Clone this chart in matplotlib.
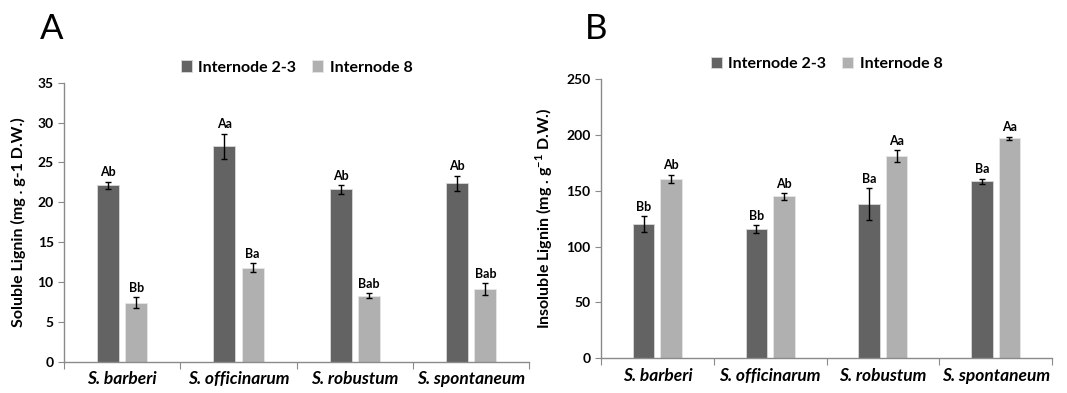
import numpy as np
import matplotlib
matplotlib.use('Agg')
import matplotlib.pyplot as plt

species = ['S. barberi', 'S. officinarum', 'S. robustum', 'S. spontaneum']
series_names = ['Internode 2-3', 'Internode 8']

soluble_23 = [22.1, 27.0, 21.6, 22.4]
soluble_23_err = [0.5, 1.6, 0.6, 0.95]
soluble_8 = [7.4, 11.8, 8.3, 9.1]
soluble_8_err = [0.7, 0.55, 0.3, 0.75]
soluble_23_lbl = ['Ab', 'Aa', 'Ab', 'Ab']
soluble_8_lbl = ['Bb', 'Ba', 'Bab', 'Bab']

insoluble_23 = [120.0, 115.5, 138.0, 158.5]
insoluble_23_err = [7.0, 3.5, 14.5, 2.3]
insoluble_8 = [160.5, 145.0, 181.0, 197.0]
insoluble_8_err = [4.0, 3.0, 5.0, 1.5]
insoluble_23_lbl = ['Bb', 'Bb', 'Ba', 'Ba']
insoluble_8_lbl = ['Ab', 'Ab', 'Aa', 'Aa']

DARK = '#636363'
LIGHT = '#b0b0b0'
AXC = '#8a8a8a'

plt.rcParams['font.family'] = ['Lato', 'DejaVu Sans']


def draw_panel(ax, v1, e1, v2, e2, l1, l2, ymax, ystep, ylabel, offset):
    x = np.arange(len(species))
    w = 0.19
    ax.bar(x - 0.122, v1, w, color=DARK, edgecolor='#d9d9d9', linewidth=0.6,
           label=series_names[0], zorder=2)
    ax.bar(x + 0.122, v2, w, color=LIGHT, edgecolor='#e6e6e6', linewidth=0.6,
           label=series_names[1], zorder=2)
    ax.errorbar(x - 0.122, v1, yerr=e1, fmt='none', ecolor='black', elinewidth=1,
                capsize=2, capthick=1, zorder=3)
    ax.errorbar(x + 0.122, v2, yerr=e2, fmt='none', ecolor='black', elinewidth=1,
                capsize=2, capthick=1, zorder=3)
    for xi, v, e, t in zip(x - 0.122, v1, e1, l1):
        ax.text(xi, v + e + offset, t, ha='center', va='bottom', fontsize=9, fontweight='bold')
    for xi, v, e, t in zip(x + 0.122, v2, e2, l2):
        ax.text(xi, v + e + offset, t, ha='center', va='bottom', fontsize=9, fontweight='bold')

    ax.set_xlim(-0.5, len(species) - 0.5)
    ax.set_ylim(0, ymax)
    ax.set_yticks(np.arange(0, ymax + 1, ystep))
    ax.set_xticks(np.arange(-0.5, len(species), 1.0))
    ax.set_xticklabels([])
    ax.set_xticks(x, minor=True)
    ax.set_xticklabels(species, minor=True, style='italic', fontweight='bold', fontsize=12.5)
    ax.tick_params(axis='x', which='major', length=5, color=AXC, direction='out')
    ax.tick_params(axis='x', which='minor', length=0, pad=7)
    ax.tick_params(axis='y', length=4, color=AXC, labelsize=10)
    for lab in ax.get_yticklabels():
        lab.set_fontweight('bold')
    for s in ['top', 'right']:
        ax.spines[s].set_visible(False)
    for s in ['left', 'bottom']:
        ax.spines[s].set_color(AXC)
        ax.spines[s].set_linewidth(1)
    ax.set_ylabel(ylabel, fontsize=11.5, fontweight='bold', labelpad=8)
    ax.legend(loc='lower center', bbox_to_anchor=(0.5, 1.0), ncol=2, frameon=False,
              handlelength=0.7, handleheight=0.7, handletextpad=0.4, columnspacing=1.0,
              prop={'weight': 'bold', 'size': 11.5}, borderaxespad=0.1)


fig = plt.figure(figsize=(10.67, 3.93), dpi=100)
ax1 = fig.add_axes([0.060, 0.0797, 0.436, 0.710])
ax2 = fig.add_axes([0.5633, 0.0883, 0.4227, 0.7107])

draw_panel(ax1, soluble_23, soluble_23_err, soluble_8, soluble_8_err,
           soluble_23_lbl, soluble_8_lbl, 35, 5,
           'Soluble Lignin (mg . g-1 D.W.)', 0.4)
draw_panel(ax2, insoluble_23, insoluble_23_err, insoluble_8, insoluble_8_err,
           insoluble_23_lbl, insoluble_8_lbl, 250, 50,
           'Insoluble Lignin (mg . g$^{\\mathregular{-1}}$ D.W.)', 3)

fig.text(0.037, 0.90, 'A', fontsize=25)
fig.text(0.548, 0.90, 'B', fontsize=25)

fig.savefig('out.png', dpi=100)
